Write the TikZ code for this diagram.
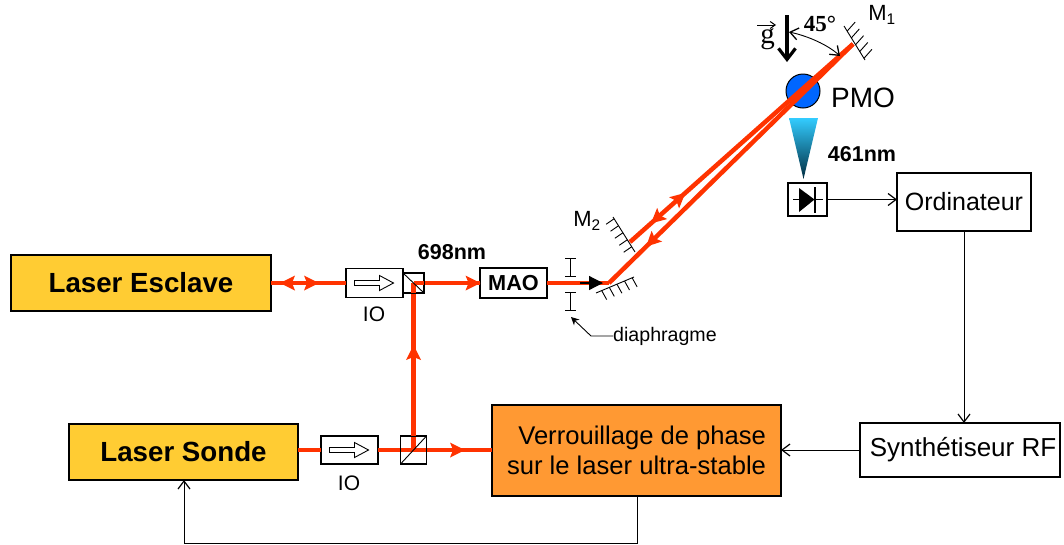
\documentclass[tikz,border=0pt]{standalone}
\usepackage{fontspec}
\setmainfont{Liberation Sans}
\newfontfamily\serifb{Liberation Serif}
\usetikzlibrary{decorations.markings,arrows.meta,calc}
\definecolor{beamred}{HTML}{FF3300}
\definecolor{laseryellow}{HTML}{FFCC33}
\definecolor{lockorange}{HTML}{FF9933}
\definecolor{motblue}{HTML}{0066FF}
\definecolor{conetop}{HTML}{33CCFF}
\definecolor{conebot}{HTML}{002B3F}
\tikzset{
  x=1pt,y=-1pt,
  box/.style={draw=black,line width=1.1pt,inner sep=0pt,outer sep=0pt,fill=white},
  laser/.style={box,fill=laseryellow,font=\fontsize{27.7}{30}\selectfont\bfseries},
  beam/.style={draw=beamred,line width=4.5pt},
  fwd/.style={postaction={decorate,decoration={markings,mark=at position #1pt with {\fill[beamred] (-8pt,-7.5pt)--(7pt,0pt)--(-8pt,7.5pt)--(-5pt,0pt)--cycle;}}}},
  bwd/.style={postaction={decorate,decoration={markings,mark=at position #1pt with {\fill[beamred] (8pt,-7.5pt)--(-7pt,0pt)--(8pt,7.5pt)--(5pt,0pt)--cycle;}}}},
  wire/.style={draw=black,line width=1pt,-{Straight Barb[length=8pt,width=12pt,line width=1.2pt]}},
  thinline/.style={draw=black,line width=0.9pt},
  lab/.style={inner sep=0pt,font=\fontsize{#1}{#1}\selectfont},
}
\begin{document}
\begin{tikzpicture}
\useasboundingbox (0,0) rectangle (1064,544);
% boxes
\node[laser,minimum width=260pt,minimum height=56pt] (esclave) at (141,283) {Laser Esclave};
\node[laser,minimum width=229pt,minimum height=56pt] (sonde) at (183.5,452) {Laser Sonde};
\node[box,fill=lockorange,minimum width=289pt,minimum height=91pt,align=right,font=\fontsize{25.6}{30}\selectfont] (lock) at (636.5,450.5) {Verrouillage de phase\\sur le laser ultra-stable};
\node[box,minimum width=200pt,minimum height=54pt,font=\fontsize{26}{28}\selectfont] (synth) at (960,450) {\hspace{6pt}Synthétiseur RF};
\node[box,minimum width=134pt,minimum height=58pt,font=\fontsize{25}{26}\selectfont] (ordi) at (964,202) {Ordinateur};
\node[box,minimum width=67pt,minimum height=30pt,font=\fontsize{21.7}{24}\selectfont\bfseries] (mao) at (513.5,283) {MAO};
\node[box,minimum width=57pt,minimum height=29pt] (io1) at (374.5,283) {};
\node[box,minimum width=57pt,minimum height=28pt] (io2) at (349.5,450) {};
\node[box,minimum width=21pt,minimum height=20pt] (cube1) at (413.5,283) {};
\node[box,minimum width=26pt,minimum height=28pt] (cube2) at (413.5,450) {};
\node[box,minimum width=39pt,minimum height=33pt] (diode) at (807.5,199.5) {};
% PMO
\node[draw=black,line width=1pt,fill=motblue,circle,minimum size=34pt,inner sep=0pt] (pmo) at (803,91) {};
\node[lab=28,anchor=west] (pmolab) at (831,98) {PMO};
% cone
\shade[top color=conetop,bottom color=conebot] (789,118) -- (818,118) -- (803.5,179) -- cycle;
% beam coordinates
\coordinate (m1) at (853,44);
\coordinate (m2) at (630,242);
\coordinate (m3) at (609,283);
% beams
\draw[beam,fwd=41,bwd=16] (esclave.east) -- (io1.west);
\draw[beam] (sonde.east |- io2.west) -- (io2.west);
\draw[beam,fwd=80] (io2.east) -- (lock.west |- io2.east);
\draw[beam,fwd=98] (cube2.center) -- (cube1.center);
\draw[beam,fwd=60] (cube1.center) -- (mao.west);
\draw[beam] (mao.east) -- (m3);
\draw[beam,bwd=59,line join=round] (m3) -- (m1);
\draw[beam,bwd=35,fwd=67] (m2) -- (m1);
% cube outlines
\draw[thinline] (cube1.north west) rectangle (cube1.south east);
\draw[thinline] (cube1.north west) -- (cube1.south east);
\draw[thinline] (cube2.north west) rectangle (cube2.south east);
\draw[thinline] (cube2.south west) -- (cube2.north east);
% IO arrows
\foreach \n in {io1,io2}{
  \draw[thinline,fill=white,shift={(\n.center)}] (-20,-2.5) -- (5,-2.5) -- (5,-7.5) -- (19,0) -- (5,7.5) -- (5,2.5) -- (-20,2.5) -- cycle;
}
% mirrors
\draw[thinline] (844,26) -- (865,60);
\foreach \t in {0.15,0.35,0.55,0.75,0.95}{
  \draw[thinline] ($(844,26)!\t!(865,60)$) -- ++(8,-9);
}
\draw[thinline] (613,217) -- (635,252);
\foreach \t in {0.05,0.25,0.45,0.65,0.85}{
  \draw[thinline] ($(613,217)!\t!(635,252)$) -- ++(-8,5.5);
}
\draw[thinline] (596,293) -- (634,277);
\foreach \t in {0.15,0.35,0.55,0.75,0.95}{
  \draw[thinline] ($(596,293)!\t!(634,277)$) -- ++(5,9);
}
% diaphragm
\draw[thinline] (565,258) -- (576,258) (570.5,258) -- (570.5,276) (565,276) -- (576,276);
\draw[thinline] (565,292) -- (576,292) (570.5,292) -- (570.5,310) (565,310) -- (576,310);
\draw[line width=1.2pt,-{Triangle[length=14pt,width=14pt]}] (580,283) -- (603,283);
\node[lab=19.6,anchor=west] (diaph) at (613,336) {diaphragme};
\coordinate (dbend) at (591,336);
\coordinate (dend) at (571,317);
\draw[thinline,-{Stealth[length=8pt,width=8pt]}] (diaph.west) -- (dbend) -- (dend);
% diode
\draw[thinline] (793,199.5) -- (823,199.5);
\fill[black] (799,188) -- (814.5,199.5) -- (799,212) -- cycle;
\draw[line width=1.4pt] (815,187) -- (815,213);
% wires
\draw[wire] (diode.east) -- (ordi.west |- diode.east);
\draw[wire] (ordi.south) -- (synth.north -| ordi.south);
\draw[wire] (synth.west) -- (lock.east |- synth.west);
\coordinate (b1) at (637,543);
\coordinate (b2) at (184,543);
\draw[wire] (lock.south -| b1) -- (b1) -- (b2) -- (sonde.south -| b2);
% gravity
\draw[line width=3.5pt,-{Straight Barb[length=11pt,width=17pt,line width=3.2pt]}] (787,15) -- (787,62);
\node[inner sep=0pt,font=\fontsize{29}{29}\selectfont\serifb] (glab) at (767.5,39) {g};
\coordinate (ga) at (757,25);
\coordinate (gb) at (776,25);
\draw[line width=1pt,-{Straight Barb[length=5pt,width=7pt,line width=1pt]}] (ga) -- (gb);
\node[inner sep=0pt,font=\fontsize{23}{23}\selectfont\serifb\bfseries] (ang) at (820,24) {45°};
\draw[line width=0.9pt,{Straight Barb[length=8pt,width=12pt,line width=1.3pt]}-{Straight Barb[length=8pt,width=12pt,line width=1.3pt]}] (789,32) .. controls (808,36) and (828,45) .. (840,56);
% labels
\node[inner sep=0pt,font=\fontsize{21.5}{21.5}\selectfont\bfseries] (l698) at (452,252) {698nm};
\node[inner sep=0pt,font=\fontsize{21.5}{21.5}\selectfont\bfseries] (l461) at (862,154) {461nm};
\node[lab=21] (lio1) at (374,314) {IO};
\node[lab=21] (lio2) at (349,483) {IO};
\node[lab=22] (lm1) at (882,15) {M\textsubscript{1}};
\node[lab=22] (lm2) at (587,221) {M\textsubscript{2}};
\end{tikzpicture}
\end{document}
